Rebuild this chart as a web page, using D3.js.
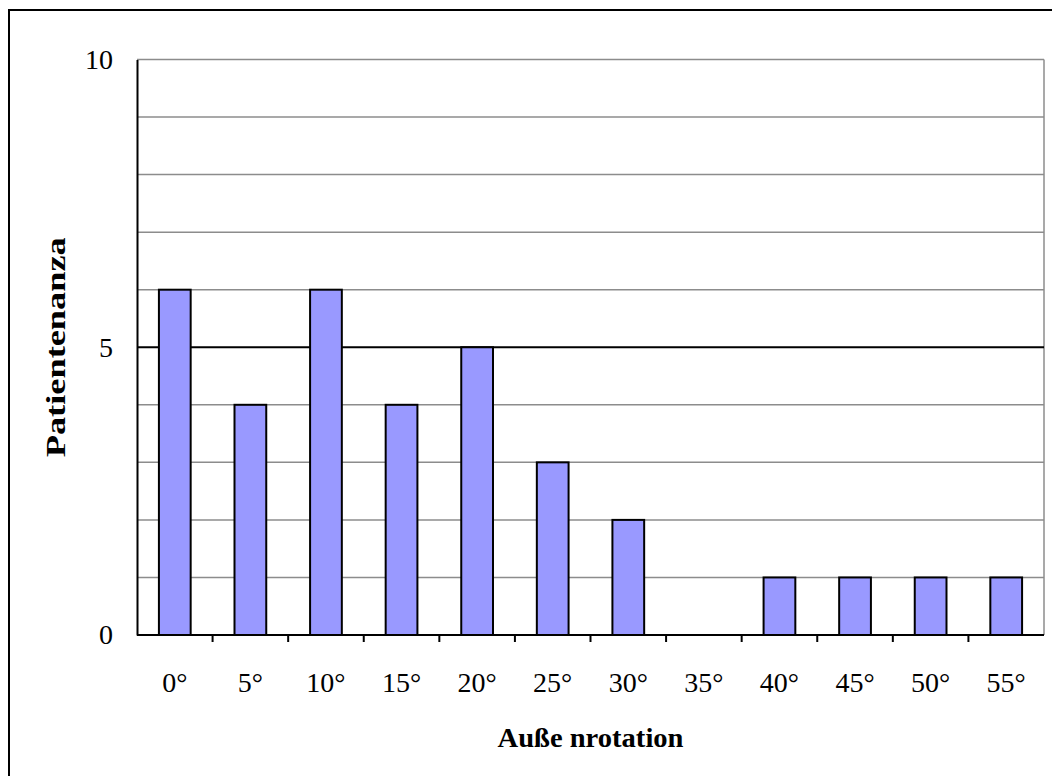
<!DOCTYPE html>
<html>
<head>
<meta charset="utf-8">
<script src="https://cdn.jsdelivr.net/npm/d3@7"></script>
<style>
  body { margin: 0; background: #fff; }
  svg text { font-family: "Liberation Serif", "Times New Roman", "DejaVu Serif", serif !important; fill: #000; }
</style>
</head>
<body>
<div id="chart"></div>
<script>
// data
const categories = ["0°", "5°", "10°", "15°", "20°", "25°", "30°", "35°", "40°", "45°", "50°", "55°"];
const counts = [6, 4, 6, 4, 5, 3, 2, 0, 1, 1, 1, 1];
const yTicks = [0, 5, 10];
const yGrid = [1, 2, 3, 4, 6, 7, 8, 9, 10];

const width = 1052, height = 776;
const margin = { top: 59.5, left: 137, right: 8, bottom: 141 };
const w = width - margin.left - margin.right;
const h = height - margin.top - margin.bottom;

const svg = d3.select("#chart").append("svg")
  .attr("width", width)
  .attr("height", height);

// outer frame (runs off the right and bottom edge)
svg.append("rect")
  .attr("x", 9).attr("y", 10)
  .attr("width", width + 20).attr("height", height + 20)
  .attr("fill", "none")
  .attr("stroke", "#000")
  .attr("stroke-width", 2);

const g = svg.append("g")
  .attr("transform", "translate(" + margin.left + "," + margin.top + ")");

const x = d3.scaleBand().domain(categories).range([0, w]).paddingInner(0).paddingOuter(0);
const y = d3.scaleLinear().domain([0, 10]).range([h, 0]);

// grid lines
g.selectAll(".grid")
  .data(yGrid)
  .enter()
  .append("line")
  .attr("class", "grid")
  .attr("x1", 0).attr("x2", w)
  .attr("y1", d => y(d)).attr("y2", d => y(d))
  .attr("stroke", "#8c8c8c")
  .attr("stroke-width", 1.5);

// right border of the plot
g.append("line")
  .attr("x1", w).attr("x2", w)
  .attr("y1", y(10)).attr("y2", y(0))
  .attr("stroke", "#8c8c8c")
  .attr("stroke-width", 1.5);

// the line at 5 is black
g.append("line")
  .attr("x1", 0).attr("x2", w)
  .attr("y1", y(5)).attr("y2", y(5))
  .attr("stroke", "#000")
  .attr("stroke-width", 2);

// bars
const barW = x.bandwidth() * 0.42;
g.selectAll(".bar")
  .data(counts.map((v, i) => ({ c: categories[i], v: v })).filter(d => d.v > 0))
  .enter()
  .append("rect")
  .attr("class", "bar")
  .attr("x", d => x(d.c) + (x.bandwidth() - barW) / 2)
  .attr("y", d => y(d.v))
  .attr("width", barW)
  .attr("height", d => y(0) - y(d.v))
  .attr("fill", "#9999ff")
  .attr("stroke", "#000")
  .attr("stroke-width", 2);

// y axis
const yAxis = g.append("g")
  .call(d3.axisLeft(y).tickValues(yTicks).tickSize(0).tickPadding(24));
yAxis.select(".domain").attr("stroke", "#000").attr("stroke-width", 2);
yAxis.selectAll("text")
  .style("font-size", "28px");

// x axis: ticks at the inner category boundaries
const xAxis = g.append("g")
  .attr("transform", "translate(0," + h + ")");
xAxis.append("line")
  .attr("x1", 0).attr("x2", w)
  .attr("stroke", "#000")
  .attr("stroke-width", 2);
xAxis.selectAll(".tick-mark")
  .data(categories.slice(1))
  .enter()
  .append("line")
  .attr("class", "tick-mark")
  .attr("x1", d => x(d)).attr("x2", d => x(d))
  .attr("y1", 0).attr("y2", 7)
  .attr("stroke", "#000")
  .attr("stroke-width", 2);
xAxis.selectAll(".tick-label")
  .data(categories)
  .enter()
  .append("text")
  .attr("class", "tick-label")
  .attr("x", d => x(d) + x.bandwidth() / 2)
  .attr("y", 57)
  .attr("text-anchor", "middle")
  .style("font-size", "28px")
  .text(d => d);

// axis titles
svg.append("text")
  .attr("x", margin.left + w / 2)
  .attr("y", 747)
  .attr("text-anchor", "middle")
  .attr("textLength", 186)
  .attr("lengthAdjust", "spacingAndGlyphs")
  .style("font-size", "28px")
  .style("font-weight", "bold")
  .text("Auße nrotation");

svg.append("text")
  .attr("transform", "translate(65," + (margin.top + h / 2) + ") rotate(-90)")
  .attr("text-anchor", "middle")
  .attr("textLength", 220)
  .attr("lengthAdjust", "spacingAndGlyphs")
  .style("font-size", "28px")
  .style("font-weight", "bold")
  .text("Patientenanza");
</script>
</body>
</html>
